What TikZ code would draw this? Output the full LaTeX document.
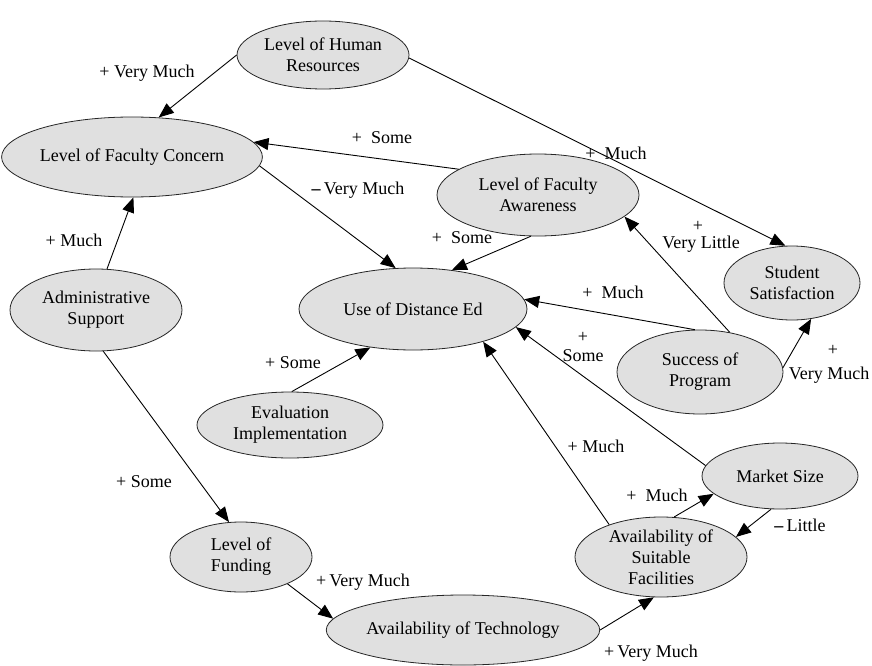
\documentclass[tikz,border=0pt]{standalone}
\usepackage{fontspec}
\setmainfont{Liberation Serif}
\usetikzlibrary{shapes.geometric,arrows.meta}
\definecolor{conceptfill}{RGB}{224,224,224}
\begin{document}
\begin{tikzpicture}[x=1pt,y=-1pt,
  concept/.style={ellipse,draw=black!85,line width=0.8pt,fill=conceptfill,inner sep=0pt,align=center,font=\fontsize{18}{21}\selectfont},
  lab/.style={font=\fontsize{18}{21}\selectfont,inner sep=0pt,align=center},
  link/.style={draw=black,line width=0.9pt,-{Triangle[length=15pt,width=12pt]}}]
\useasboundingbox[fill=white] (0,0) rectangle (872,666);

% concepts
\node[concept,minimum width=172pt,minimum height=68pt] (HR) at (323,55) {Level of Human\\Resources};
\node[concept,minimum width=242pt,minimum height=80pt] (FC) at (132,157) {Level of Faculty Concern};
\node[concept,minimum width=202pt,minimum height=82pt] (FA) at (538,195) {Level of Faculty\\Awareness};
\node[concept,minimum width=136pt,minimum height=74pt] (SS) at (792,283) {Student\\Satisfaction};
\node[concept,minimum width=172pt,minimum height=82pt] (AS) at (96,310) {Administrative\\Support};
\node[concept,minimum width=228pt,minimum height=82pt] (UDE) at (413,309) {Use of Distance Ed};
\node[concept,minimum width=166pt,minimum height=84pt] (SP) at (700,372) {Success of\\Program};
\node[concept,minimum width=186pt,minimum height=66pt] (EI) at (290,425) {Evaluation\\Implementation};
\node[concept,minimum width=156pt,minimum height=66pt] (MS) at (780,476) {Market Size};
\node[concept,minimum width=142pt,minimum height=70pt] (LF) at (241,557) {Level of\\Funding};
\node[concept,minimum width=172pt,minimum height=80pt] (ASF) at (661,557) {Availability of\\Suitable\\Facilities};
\node[concept,minimum width=244pt,minimum height=70pt] (AT) at (463,630) {Availability of Technology};

% connectors
\draw[link] (HR.180) -- (FC.56);
\draw[link] (FA.162) -- (FC.7);
\draw[link] (FC.-4) -- (UDE.113);
\draw[link] (AS.75) -- (FC.-88);
\draw[link] (HR.-2) -- (SS.100);
\draw[link] (FA.-100) -- (UDE.45);
\draw[link] (SP.97) -- (UDE.5);
\draw[link] (SP.53) -- (FA.-14);
\draw[link] (SP.3) -- (SS.-62);
\draw[link] (AS.-80) -- (LF.109);
\draw[link] (LF.-30) -- (AT.175);
\draw[link] (AT.0) -- (ASF.-100);
\draw[link] (ASF.148) -- (UDE.-25);
\draw[link] (MS.172) -- (UDE.-10);
\draw[link] (ASF.72) -- (MS.195);
\draw[link] (MS.-105) -- (ASF.15);
\draw[link] (EI.87) -- (UDE.222);

% labels
\node[lab] (l1) at (147,73) {+ Very Much};
\node[lab] (l2) at (382,138) {+\ \ Some};
\node[lab] (l3) at (358,190) {\textbf{--}\,Very Much};
\node[lab] (l4) at (616,153) {+\ \ Much};
\node[lab] (l5) at (74,240) {+\ Much};
\node[lab] (l6) at (462,238) {+\ \ Some};
\node[lab] (l7p) at (698,226) {+};
\node[lab] (l7) at (701,244) {Very Little};
\node[lab] (l8) at (613,292) {+\ \ Much};
\node[lab] (l9p) at (583,337) {+};
\node[lab] (l9) at (583,356) {Some};
\node[lab] (l10p) at (833,350) {+};
\node[lab] (l10) at (829,375) {Very Much};
\node[lab] (l11) at (293,363) {+\ Some};
\node[lab] (l12) at (596,446) {+\ Much};
\node[lab] (l13) at (144,482) {+\ Some};
\node[lab] (l14) at (657,495) {+\ \ Much};
\node[lab] (l15) at (800,525) {\textbf{--}\,Little};
\node[lab] (l16) at (363,582) {+\,Very Much};
\node[lab] (l17) at (651,653) {+\,Very Much};
\end{tikzpicture}
\end{document}
